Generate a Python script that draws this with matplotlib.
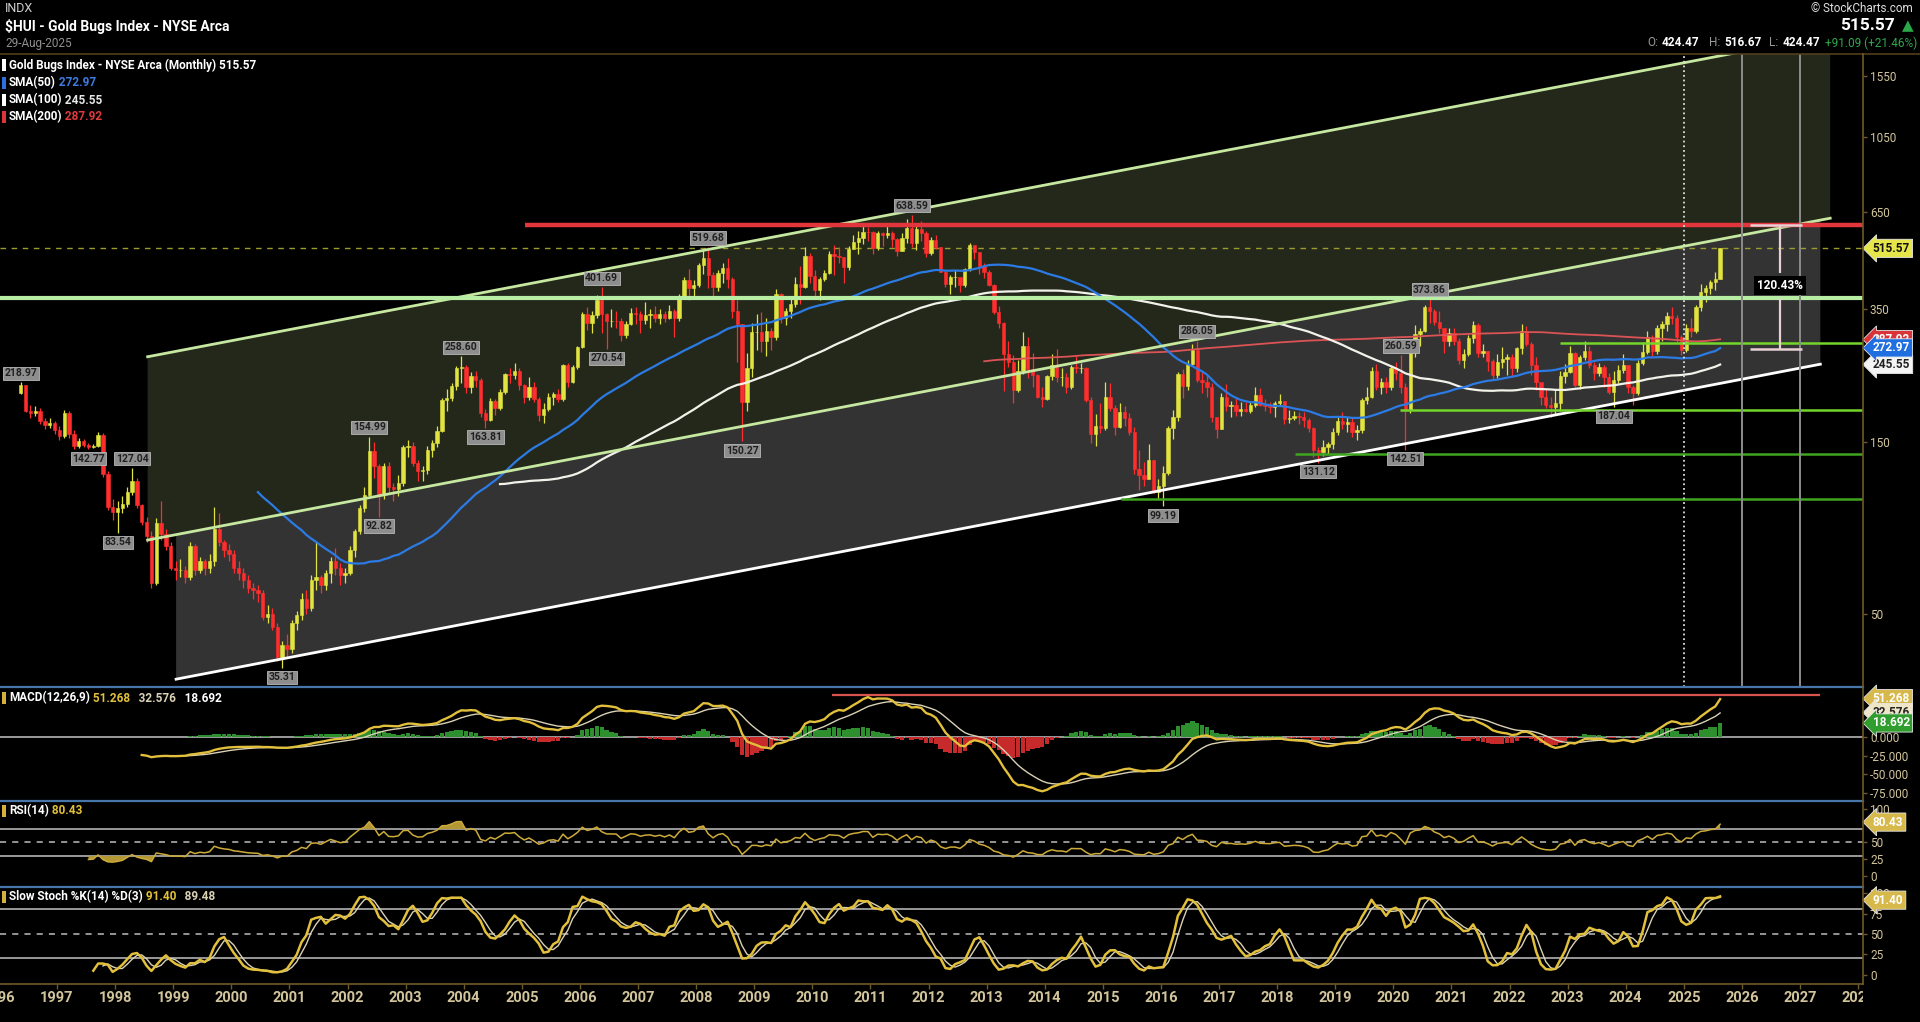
import numpy as np
import pandas as pd
import matplotlib
matplotlib.use('Agg')
import matplotlib.pyplot as plt
from matplotlib.patches import Polygon, Rectangle
from matplotlib.ticker import NullLocator, FixedLocator, FixedFormatter

FONT = ['Liberation Sans Narrow', 'Roboto', 'DejaVu Sans']
plt.rcParams['font.family'] = FONT

# %%
# Monthly $HUI candles, May 1996 .. Aug 2025
start_month = '1996-05-01'
first_open = 205.0
closes = [
    215, 183, 180, 183, 171, 167, 169, 162,                                   # 1996
    156, 180, 158, 146, 151, 147, 145, 146, 157, 122, 99, 96,                 # 1997
    98, 101, 109, 117, 100, 90, 82, 61, 89, 83, 77, 67,                       # 1998
    66, 66, 63, 77, 66, 70, 67, 70, 86, 79, 75, 73,                           # 1999
    67, 65, 62, 59, 58, 57, 49, 50, 46, 38, 41, 40,                           # 2000
    47, 49.5, 55, 52, 62, 63, 60, 65, 70, 67, 64, 65,                         # 2001
    75, 85, 98, 107, 141, 128, 107, 128, 112, 111, 115, 145,                  # 2002
    146, 131, 124, 125, 142, 149, 161, 196, 198, 214, 240, 242,               # 2003
    213, 228, 222, 180, 172, 195, 186, 206, 231, 230, 236, 216,               # 2004
    200, 213, 197, 178, 185, 200, 204, 197, 244, 219, 241, 274,               # 2005
    340, 320, 337, 370, 340, 325, 325, 324, 296, 318, 341, 338,               # 2006
    326, 336, 338, 331, 339, 330, 345, 331, 380, 422, 399, 409,               # 2007
    465, 485, 434, 402, 441, 454, 425, 345, 318, 193, 240, 302,               # 2008
    302, 285, 305, 292, 384, 330, 345, 362, 411, 404, 490, 431,               # 2009
    395, 423, 441, 496, 491, 488, 457, 515, 538, 550, 574, 573,               # 2010
    516, 567, 563, 569, 549, 508, 552, 588, 532, 584, 570, 500,               # 2011
    545, 520, 443, 411, 430, 430, 409, 451, 527, 505, 462, 444,               # 2012
    409, 344, 320, 262, 250, 208, 236, 276, 238, 230, 199, 197,               # 2013
    228, 245, 226, 226, 212, 242, 240, 240, 196, 158, 166, 164,               # 2014
    200, 186, 165, 181, 175, 160, 126, 121, 118, 133, 109, 113,               # 2015
    123, 164, 176, 231, 214, 247, 269, 222, 220, 212, 176, 163,               # 2016
    200, 188, 190, 183, 185, 183, 190, 202, 190, 188, 187, 192,               # 2017
    194, 173, 175, 177, 176, 172, 164, 142, 140, 145, 148, 160,               # 2018
    171, 168, 170, 160, 162, 196, 199, 236, 213, 219, 212, 240,               # 2019
    232, 212, 184, 269, 299, 305, 355, 345, 322, 310, 285, 300,               # 2020
    285, 252, 262, 290, 315, 264, 267, 251, 229, 250, 255, 258,               # 2021
    240, 272, 305, 280, 245, 220, 200, 190, 187, 192, 228, 234,               # 2022
    265, 216, 258, 268, 245, 232, 242, 226, 206, 222, 237, 245,               # 2023
    213, 205, 248, 266, 292, 268, 310, 318, 335, 330, 292, 270,               # 2024
    310, 305, 355, 391, 399, 417, 424.47, 515.57,                             # 2025
]
highs = [
    218.97, 216, 190, 188, 186, 174, 174, 171,
    166, 184, 183, 162, 154, 153, 149, 148, 160, 159, 124, 104,
    103, 106, 112, 127.04, 119, 101, 93, 85, 92, 103, 86, 79,
    70, 71, 68, 79, 78, 72, 71, 73, 99, 95, 80, 78,
    75, 70, 67, 64, 61, 60, 58, 53, 52, 47, 42, 44,
    48, 51, 57, 58, 64, 79, 64, 66, 72, 76, 69, 67,
    77, 86, 100, 112, 154.99, 150, 130, 131, 132, 115, 121, 147,
    152, 150, 133, 128, 146, 152, 166, 198, 210, 218, 243, 258.60,
    244, 234, 235, 225, 185, 198, 197, 210, 233, 240, 248, 240,
    217, 226, 219, 200, 192, 205, 206, 210, 246, 248, 244, 276,
    344, 354, 345, 382, 401.69, 342, 351, 345, 330, 325, 352, 355,
    345, 365, 350, 357, 350, 345, 360, 350, 385, 430, 452, 420,
    470, 510, 519.68, 442, 450, 469, 485, 428, 370, 318, 265, 320,
    340, 343, 330, 310, 398, 388, 352, 376, 430, 462, 520, 500,
    450, 430, 448, 506, 528, 520, 487, 525, 560, 575, 595, 590,
    575, 575, 573, 603, 575, 552, 568, 621, 638.59, 600, 613, 575,
    555, 560, 520, 450, 435, 448, 430, 455, 533, 528, 505, 470,
    450, 410, 356, 322, 285, 261, 252, 302, 292, 265, 231, 212,
    230, 262, 271, 240, 232, 245, 260, 248, 242, 200, 179, 192,
    219, 218, 189, 192, 188, 180, 165, 142, 132, 148, 133, 118,
    128, 166, 184, 234, 238, 252, 280, 286.05, 236, 229, 218, 176,
    205, 217, 195, 198, 193, 193, 195, 212, 211, 197, 193, 195,
    204, 195, 184, 182, 181, 181, 174, 165, 145, 152, 150, 164,
    176, 181, 176, 174, 167, 198, 212, 242, 246, 225, 226, 243,
    250, 260.59, 218, 277, 315, 310, 360, 373.86, 349, 345, 310, 310,
    310, 290, 271, 297, 325, 320, 280, 268, 254, 262, 274, 262,
    262, 275, 318, 313, 283, 257, 217, 210, 200, 208, 235, 246,
    276, 266, 261, 286, 276, 250, 248, 244, 232, 236, 245, 262,
    245, 216, 252, 283, 305, 296, 317, 325, 343, 355, 336, 297,
    318, 330, 360, 410, 408, 420, 442, 516.67,
]
lows = [
    203, 181, 175, 177, 168, 163, 164, 158,
    152, 154, 154, 143, 144, 145, 142.77, 144, 145, 120, 97, 91,
    83.54, 95, 99, 107, 98, 88, 79, 59, 60, 80, 75, 66,
    62, 63, 61, 62, 64, 65, 64, 65, 68, 77, 72, 70,
    65, 62, 59, 57, 55, 54, 48, 47, 45, 37, 35.31, 38,
    39, 45, 48, 50, 51, 58, 57, 58, 61, 64, 60, 61,
    64, 72, 83, 96, 106, 119, 92.82, 104, 108, 103, 106, 113,
    136, 128, 117, 117, 122, 136, 145, 160, 182, 195, 208, 218,
    205, 205, 213, 176, 163.81, 171, 178, 184, 204, 218, 224, 208,
    192, 196, 193, 171, 169, 182, 190, 193, 195, 212, 218, 238,
    272, 306, 300, 330, 300, 270.54, 312, 310, 285, 290, 315, 318,
    300, 318, 310, 322, 318, 322, 328, 292, 325, 378, 370, 377,
    402, 438, 400, 380, 393, 413, 400, 330, 250, 150.27, 183, 226,
    270, 266, 260, 270, 288, 320, 315, 330, 355, 362, 400, 412,
    378, 370, 418, 438, 436, 470, 412, 450, 512, 496, 531, 540,
    497, 510, 525, 550, 520, 492, 508, 533, 520, 510, 540, 488,
    495, 513, 442, 404, 384, 402, 391, 404, 447, 482, 438, 426,
    405, 340, 310, 207, 241, 192, 206, 231, 225, 213, 198, 187,
    196, 223, 220, 214, 205, 210, 232, 232, 193, 149, 146, 159,
    162, 182, 157, 164, 166, 157, 122, 110, 113, 118, 108, 104,
    99.19, 121, 153, 171, 198, 208, 243, 219, 205, 200, 170, 154,
    163, 183, 176, 177, 177, 181, 180, 187, 188, 182, 180, 176,
    188, 168, 169, 172, 168, 165, 160, 136, 131.12, 137, 139, 143,
    157, 163, 160, 155, 152, 159, 191, 198, 209, 204, 205, 208,
    222, 205, 142.51, 180, 257, 276, 303, 320, 315, 300, 265, 276,
    278, 246, 240, 259, 282, 258, 258, 235, 224, 225, 240, 229,
    226, 234, 262, 276, 229, 209, 189, 186, 176, 178, 183, 218,
    233, 213, 210, 253, 240, 222, 228, 212, 203, 187.04, 218, 232,
    205, 190, 202, 245, 262, 260, 262, 286, 304, 318, 283, 261,
    266, 292, 300, 345, 365, 385, 395, 424.47,
]

# swing point labels on the price panel
label_dates = ['1996-05', '1997-07', '1998-04', '1998-01', '2000-11', '2002-05', '2002-07',
               '2003-12', '2004-05', '2006-05', '2006-06', '2008-03', '2008-10', '2011-09',
               '2016-01', '2016-08', '2018-09', '2020-02', '2020-03', '2020-08', '2023-10']
label_values = [218.97, 142.77, 127.04, 83.54, 35.31, 154.99, 92.82,
                258.60, 163.81, 401.69, 270.54, 519.68, 150.27, 638.59,
                99.19, 286.05, 131.12, 260.59, 142.51, 373.86, 187.04]
label_side = ['up', 'dn', 'up', 'dn', 'dn', 'up', 'dn',
              'up', 'dn', 'up', 'dn', 'up', 'dn', 'up',
              'dn', 'up', 'dn', 'up', 'dn', 'up', 'dn']

# drawn channel (year, price) end points
upper_x, upper_y = [1998.56, 2027.52], [258, 2017]
mid_x, mid_y = [1998.56, 2027.52], [80, 625]
lower_x, lower_y = [1999.05, 2027.35], [32.9, 246]

# horizontal levels (price, start year)
red_level, red_start = 599, 2005.05
pale_level = 376
green_levels = [281, 183.6, 138.6, 103.8]
green_starts = [2022.87, 2020.12, 2018.3, 2015.31]
green_colors = ['#74d52b', '#74d52b', '#3fa51f', '#3fa51f']
macd_level, macd_span = 56.1, [2010.34, 2027.35]
vline_dotted = 2025.0
vlines_gray = [2026.0, 2027.0]
meas_x, meas_top, meas_bot = 2026.66, 599, 271.7
meas_caps = [2026.14, 2027.03]

# %%
W, H = 1920, 1022
AXR = 1863          # pixel x of price axis
X0 = 1997 - 57 / 58.1
X1 = 1997 + (AXR - 57) / 58.1
BROWN = '#6e5a2a'
TICKC = '#d2c59c'
UP, DOWN = '#e1e33f', '#ff2d2d'
GOLD = '#e2c03c'
CREAM = '#d9d2b5'

c = np.array(closes, float)
h = np.array(highs, float)
l = np.array(lows, float)
n = len(c)
assert len(h) == n and len(l) == n, (n, len(h), len(l))
o = np.r_[first_open, c[:-1]]
dates = pd.date_range(start_month, periods=n, freq='MS')
x = np.asarray(dates.year + (dates.month - 0.5) / 12, float)

cs = pd.Series(c)
sma50 = cs.rolling(50).mean().values
sma100 = cs.rolling(100).mean().values
sma200 = cs.rolling(200).mean().values

ema12 = cs.ewm(span=12, adjust=False).mean()
ema26 = cs.ewm(span=26, adjust=False).mean()
macd = (ema12 - ema26).values
macd[:25] = np.nan
sig = pd.Series(macd).ewm(span=9, adjust=False).mean().values
sig[:33] = np.nan
hist = macd - sig

d = np.diff(c, prepend=np.nan)
gain = np.where(d > 0, d, 0.0)
loss = np.where(d < 0, -d, 0.0)
rsi = np.full(n, np.nan)
ag, al = gain[1:15].mean(), loss[1:15].mean()
rsi[14] = 100 - 100 / (1 + ag / al)
for i in range(15, n):
    ag = (ag * 13 + gain[i]) / 14
    al = (al * 13 + loss[i]) / 14
    rsi[i] = 100 - 100 / (1 + ag / al) if al > 0 else 100

hs, ls = pd.Series(h), pd.Series(l)
ll14 = ls.rolling(14).min()
hh14 = hs.rolling(14).max()
fastk = 100 * (cs - ll14) / (hh14 - ll14)
slowk = fastk.rolling(3).mean().values
slowd = pd.Series(slowk).rolling(3).mean().values

# %%
fig = plt.figure(figsize=(W / 100, H / 100), dpi=100, facecolor='black')


def panel(top, bottom):
    ax = fig.add_axes([0, 1 - bottom / H, AXR / W, (bottom - top) / H])
    ax.set_facecolor('black')
    for s in ax.spines.values():
        s.set_visible(False)
    ax.set_xlim(X0, X1)
    ax.tick_params(axis='x', bottom=False, labelbottom=False)
    ax.yaxis.tick_right()
    ax.tick_params(axis='y', which='both', direction='out', length=3, width=1,
                   color=BROWN, labelcolor=TICKC, labelsize=8.5, pad=2)
    return ax


def tag(ax, val, text, fc, tc):
    ax.annotate(text, xy=(1, val), xycoords=('axes fraction', 'data'),
                xytext=(7, 0), textcoords='offset points', ha='left', va='center',
                fontsize=8.5, fontweight='bold', color=tc, zorder=20,
                annotation_clip=False,
                bbox=dict(boxstyle='larrow,pad=0.22', fc=fc, ec='#e8e8e8', lw=0.6))


# ---- price panel
axm = panel(54, 687)
axm.set_yscale('log')
axm.set_ylim(31.3, 1784)
axm.yaxis.set_major_locator(FixedLocator([50, 150, 350, 650, 1050, 1550]))
axm.yaxis.set_major_formatter(FixedFormatter(['50', '150', '350', '650', '1050', '1550']))
axm.yaxis.set_minor_locator(NullLocator())

lmid = np.exp(np.interp(lower_x, mid_x, np.log(mid_y)))
axm.add_patch(Polygon([(mid_x[0], mid_y[0]), (mid_x[1], mid_y[1]),
                       (upper_x[1], upper_y[1]), (upper_x[0], upper_y[0])],
                      closed=True, fc='#23281b', ec='none', zorder=0.5))
axm.add_patch(Polygon([(lower_x[0], lower_y[0]), (lower_x[1], lower_y[1]),
                       (lower_x[1], lmid[1]), (lower_x[0], lmid[0])],
                      closed=True, fc='#333333', ec='none', zorder=0.6))

axm.axhline(515.57, color='#9c9c2e', lw=1, ls=(0, (4, 4)), zorder=1)

up = c >= o
cols = np.where(up, UP, DOWN)
axm.vlines(x, l, h, colors=cols, lw=0.9, zorder=3)
axm.bar(x, np.abs(c - o), bottom=np.minimum(o, c), width=0.058, color=cols,
        edgecolor=cols, lw=0.4, zorder=3.1)

axm.plot(x, sma200, color='#dc5356', lw=1.3, zorder=4)
axm.plot(x, sma100, color='#f2f2ea', lw=1.6, zorder=4)
axm.plot(x, sma50, color='#2c7be5', lw=1.6, zorder=4)

axm.plot(upper_x, upper_y, color='#c6e8a0', lw=2, zorder=5)
axm.plot(mid_x, mid_y, color='#c6e8a0', lw=2, zorder=5)
axm.plot(lower_x, lower_y, color='white', lw=2, zorder=5)
axm.hlines(red_level, red_start, X1, color='#e2363c', lw=3.2, zorder=5)
axm.axhline(pale_level, color='#b8eea4', lw=3, zorder=5)
for lev, st, col in zip(green_levels, green_starts, green_colors):
    axm.hlines(lev, st, X1, color=col, lw=1.8, zorder=5)

axm.axvline(vline_dotted, color='#dddddd', lw=1.3, ls=(0, (1, 1.6)), zorder=5)
for v in vlines_gray:
    axm.axvline(v, color='#8c8c8c', lw=1.4, zorder=5)

# measurement of the gap to the red line
gap_top, gap_bot = 440, 375
mcol = '#e8cfd3'
axm.vlines(meas_x, gap_top, meas_top, color=mcol, lw=1.6, zorder=6)
axm.vlines(meas_x, meas_bot, gap_bot, color=mcol, lw=1.6, zorder=6)
axm.hlines([meas_top, meas_bot], meas_caps[0], meas_caps[1], color=mcol, lw=1.8, zorder=6)
axm.text(meas_x, np.sqrt(gap_top * gap_bot), '120.43%', ha='center', va='center',
         color='white', fontsize=8.5, fontweight='bold', zorder=7,
         bbox=dict(boxstyle='square,pad=0.25', fc='black', ec='none'))

ld = pd.to_datetime(label_dates)
lx = np.asarray(ld.year + (ld.month - 0.5) / 12, float)
for xx, vv, sd in zip(lx, label_values, label_side):
    dy = 3 if sd == 'up' else -3
    axm.annotate('%.2f' % vv, xy=(xx, vv), xytext=(0, dy), textcoords='offset points',
                 ha='center', va='bottom' if sd == 'up' else 'top', fontsize=7.5,
                 fontweight='bold', color='#202020', zorder=8,
                 bbox=dict(boxstyle='square,pad=0.15', fc='#8e8e8e', ec='#b8b8b8', lw=0.6))

tag(axm, 515.57, '515.57', '#e6e64a', '#111111')
tag(axm, 287.92, '287.92', '#d9343a', 'white')
tag(axm, 245.55, '245.55', '#f4f4f4', '#222222')
tag(axm, 272.97, '272.97', '#1f6fe0', 'white')

# ---- MACD
axd = panel(687, 801)
axd.set_ylim(-85.6, 66.8)
axd.yaxis.set_major_locator(FixedLocator([0, -25, -50, -75]))
axd.yaxis.set_major_formatter(FixedFormatter(['0.000', '-25.000', '-50.000', '-75.000']))
axd.axhline(0, color='#b5b5b5', lw=1.2, zorder=1)
ok = ~np.isnan(hist)
axd.bar(x[ok], hist[ok], width=0.075, color=np.where(hist[ok] >= 0, '#2e8f2e', '#c62a2a'), zorder=2)
axd.plot(x, sig, color=CREAM, lw=1, zorder=3)
axd.plot(x, macd, color=GOLD, lw=1.7, zorder=4)
axd.hlines(macd_level, macd_span[0], macd_span[1], color='#d9534f', lw=1.6, zorder=3)
tag(axd, 51.268, '51.268', '#d6b94a', 'white')
tag(axd, 32.576, '32.576', '#efe6c8', '#222222')
tag(axd, 18.692, '18.692', '#2f9e2f', 'white')

# ---- RSI (the 75 label sits under the value tag in the original)
axr = panel(801, 887)
axr.set_ylim(-16.4, 111.9)
axr.yaxis.set_major_locator(FixedLocator([0, 25, 50, 100]))
axr.yaxis.set_major_formatter(FixedFormatter(['0', '25', '50', '100']))
for lev in (70, 30):
    axr.axhline(lev, color='#a5a5a5', lw=1.3, zorder=1)
axr.axhline(50, color='#bdbdbd', lw=1.1, ls=(0, (4, 4)), zorder=1)
rz = np.nan_to_num(rsi, nan=50)
axr.fill_between(x, rsi, 70, where=rz >= 70, interpolate=True, color='#b39734', lw=0, zorder=2)
axr.fill_between(x, rsi, 30, where=rz <= 30, interpolate=True, color='#b39734', lw=0, zorder=2)
axr.plot(x, rsi, color='#cdab3a', lw=1.1, zorder=3)
tag(axr, 80.43, '80.43', '#d6b94a', 'white')

# ---- Slow stochastic
axs = panel(887, 984)
axs.set_ylim(-11.25, 107.5)
axs.yaxis.set_major_locator(FixedLocator([0, 25, 50, 75, 100]))
axs.yaxis.set_major_formatter(FixedFormatter(['0', '25', '50', '75', '100']))
for lev in (80, 20):
    axs.axhline(lev, color='#a5a5a5', lw=1.3, zorder=1)
axs.axhline(50, color='#bdbdbd', lw=1.1, ls=(0, (4, 4)), zorder=1)
axs.plot(x, slowd, color=CREAM, lw=1, zorder=3)
axs.plot(x, slowk, color=GOLD, lw=1.8, zorder=4)
tag(axs, 91.40, '91.40', '#d6b94a', 'white')

# ---- year labels
axx = fig.add_axes([0, 0, AXR / W, (H - 984) / H])
axx.set_xlim(X0, X1)
axx.set_ylim(0, 1)
axx.axis('off')
years = np.arange(1996, 2029)
axx.vlines(years, 0.86, 1.0, color=BROWN, lw=1)
for yr in years:
    axx.text(yr, 0.64, str(yr), ha='center', va='center', color=TICKC,
             fontsize=10.5, fontweight='bold', clip_on=True)

# ---- overlay in pixel coordinates
ov = fig.add_axes([0, 0, 1, 1], zorder=50)
ov.set_xlim(0, W)
ov.set_ylim(H, 0)
ov.axis('off')
ov.patch.set_alpha(0)

ov.plot([0, W], [54, 54], color='#4f3f1c', lw=1.2)
for yy in (687, 801, 887):
    ov.plot([0, AXR], [yy, yy], color='#4677a8', lw=1.6)
ov.plot([0, AXR], [984, 984], color=BROWN, lw=1.2)
ov.plot([AXR, AXR], [54, 984], color=BROWN, lw=1.2)


def chain(px, py, parts, size, weight='bold'):
    t = ov.text(px, py, parts[0][0], color=parts[0][1], fontsize=size,
                fontweight=weight, ha='left', va='center')
    for s, col in parts[1:]:
        t = ov.annotate(s, xy=(1, 0.5), xycoords=t, xytext=(0, 0),
                        textcoords='offset points', ha='left', va='center',
                        color=col, fontsize=size, fontweight=weight)
    return t


def bar(py, col):
    ov.add_patch(Rectangle((2, py - 6), 4, 12, fc=col, ec='none'))


# header
ov.text(5, 9, 'INDX', color='#cfcfcf', fontsize=9, ha='left', va='center')
ov.text(5, 27, '$HUI - Gold Bugs Index - NYSE Arca', color='white', fontsize=10,
        fontweight='bold', ha='left', va='center')
ov.text(5, 43, '29-Aug-2025', color='#8f8f8f', fontsize=8.5, ha='left', va='center')
ov.text(1913, 8, '\u00a9 StockCharts.com', color='#e0e0e0', fontsize=8.5, ha='right', va='center')
ov.text(1895, 26, '515.57', color='white', fontsize=12.5, fontweight='bold', ha='right', va='center')
ov.text(1914, 26, '\u25b2', color='#2aa84a', fontsize=11, ha='right', va='center',
        family=['DejaVu Sans'])
for px, s, col in [(1647, 'O:', '#9a9a9a'), (1662, '424.47', 'white'),
                   (1709, 'H:', '#9a9a9a'), (1724, '516.67', 'white'),
                   (1769, 'L:', '#9a9a9a'), (1783, '424.47', 'white'),
                   (1825, '+91.09 (+21.46%)', '#2fa84f')]:
    ov.text(px, 43, s, color=col, fontsize=8.5, fontweight='bold' if col == 'white' else 'normal',
            ha='left', va='center')

# legends
bar(65, 'white')
chain(9, 65, [('Gold Bugs Index - NYSE Arca (Monthly) 515.57', 'white')], 8.5)
bar(83, '#2a6fdb')
chain(9, 83, [('SMA(50)', 'white'), (' 272.97', '#3b7de0')], 8.5)
bar(100, 'white')
chain(9, 100, [('SMA(100)', 'white'), (' 245.55', '#e6e6e6')], 8.5)
bar(117, '#d9343a')
chain(9, 117, [('SMA(200)', 'white'), (' 287.92', '#e0393e')], 8.5)

bar(698, '#d4b13a')
chain(9, 698, [('MACD(12,26,9)', 'white'), (' 51.268', GOLD), ('   32.576', CREAM),
               ('   18.692', 'white')], 8.5)
bar(811, '#d4b13a')
chain(9, 811, [('RSI(14)', 'white'), (' 80.43', GOLD)], 8.5)
bar(897, '#d4b13a')
chain(9, 897, [('Slow Stoch %K(14) %D(3)', 'white'), (' 91.40', GOLD), ('   89.48', CREAM)], 8.5)

fig.savefig('out.png', dpi=100, facecolor='black')
